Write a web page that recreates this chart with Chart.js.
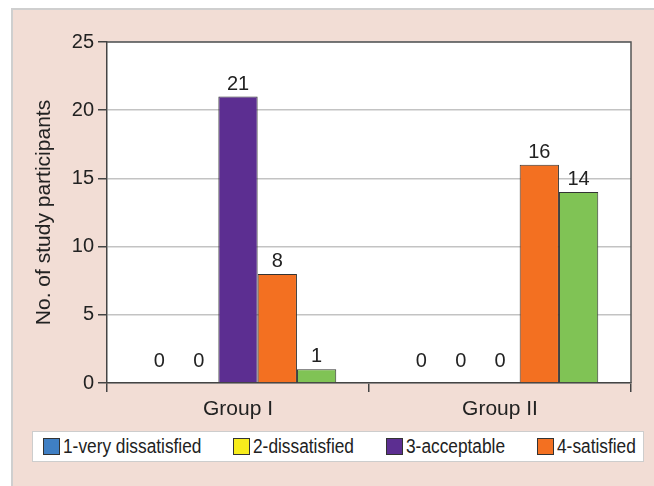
<!DOCTYPE html>
<html lang="en">
<head>
    <meta charset="UTF-8">
    <title>Satisfaction by group</title>
    <script src="https://cdn.jsdelivr.net/npm/chart.js"></script>
    <style>
        body {
            margin: 0;
            background: #fff;
            font-family: "Liberation Sans", Arial, sans-serif;
        }
        #wrap {
            position: relative;
            width: 654px;
            height: 486px;
            overflow: hidden;
        }
        #panel {
            position: absolute;
            left: 11px;
            top: 8px;
            width: 660px;
            height: 500px;
            background: #f2ddd5;
            border-top: 2px solid #cfcfcf;
            border-left: 2px solid #cfcfcf;
        }
        #myChart {
            position: absolute;
            left: 0;
            top: 0;
        }
        #legend {
            position: absolute;
            left: 32px;
            top: 431px;
            width: 612px;
            height: 31px;
            background: #fff;
            border: 1px solid #cdcdcd;
            display: flex;
            align-items: center;
            flex-wrap: nowrap;
            overflow: hidden;
            padding-left: 10px;
            box-sizing: border-box;
            gap: 32px;
            white-space: nowrap;
            font-size: 20px;
            color: #222;
        }
        #legend span.item {
            display: flex;
            align-items: center;
            flex-shrink: 0;
        }
        #legend span.txt {
            display: inline-block;
            overflow: visible;
        }
        #legend span.txt b {
            display: inline-block;
            font-weight: normal;
            transform: scaleX(0.865);
            transform-origin: left center;
        }
        #legend i {
            display: inline-block;
            width: 15px;
            height: 15px;
            border: 1px solid #333;
            margin-right: 3px;
        }
    </style>
</head>
<body>
<div id="wrap">
    <div id="panel"></div>
    <canvas id="myChart" width="654" height="486"></canvas>
    <div id="legend"></div>
</div>
<script>
    // data
    const groups = ['Group I', 'Group II'];
    const seriesNames = ['1-very dissatisfied', '2-dissatisfied', '3-acceptable', '4-satisfied', '5-very satisfied'];
    const veryDissatisfied = [0, 0];
    const dissatisfied = [0, 0];
    const acceptable = [21, 0];
    const satisfied = [8, 16];
    const verySatisfied = [1, 14];
    const yTicks = [0, 5, 10, 15, 20, 25];

    const colors = ['#3f7fc4', '#f7ec1c', '#5c2e91', '#f37021', '#80c355'];
    const values = [veryDissatisfied, dissatisfied, acceptable, satisfied, verySatisfied];

    const font = 'Liberation Sans, Arial, sans-serif';

    // white plot area + dark top/right frame
    const plotArea = {
        id: 'plotArea',
        beforeDraw(chart) {
            const a = chart.chartArea, c = chart.ctx;
            c.save();
            c.fillStyle = '#fff';
            c.fillRect(a.left, a.top, a.right - a.left, a.bottom - a.top);
            c.restore();
        },
        afterDraw(chart) {
            const a = chart.chartArea, c = chart.ctx;
            c.save();
            c.strokeStyle = '#555';
            c.lineWidth = 1.5;
            c.beginPath();
            c.moveTo(a.left, a.top);
            c.lineTo(a.right, a.top);
            c.lineTo(a.right, a.bottom);
            c.stroke();
            c.restore();
        }
    };

    // value labels above every bar
    const barLabels = {
        id: 'barLabels',
        afterDatasetsDraw(chart) {
            const c = chart.ctx;
            c.save();
            c.font = '20px ' + font;
            c.fillStyle = '#222';
            c.textAlign = 'center';
            c.textBaseline = 'alphabetic';
            chart.data.datasets.forEach((ds, i) => {
                chart.getDatasetMeta(i).data.forEach((bar, j) => {
                    const v = ds.data[j];
                    const off = v === 0 ? 16 : 7;
                    c.fillText(String(v), bar.x, bar.y - off);
                });
            });
            c.restore();
        }
    };

    const ctx = document.getElementById('myChart').getContext('2d');
    const myChart = new Chart(ctx, {
        type: 'bar',
        data: {
            labels: groups,
            datasets: seriesNames.map((name, i) => ({
                label: name,
                data: values[i],
                backgroundColor: colors[i],
                borderColor: '#333',
                borderWidth: 1,
                categoryPercentage: 0.75,
                barPercentage: 1
            }))
        },
        options: {
            responsive: false,
            animation: false,
            layout: {
                padding: { top: 42, right: 23, left: 0, bottom: 0 }
            },
            plugins: {
                legend: { display: false },
                tooltip: { enabled: false }
            },
            scales: {
                x: {
                    afterFit(scale) { scale.height = 103; },
                    grid: {
                        drawOnChartArea: false,
                        drawTicks: true,
                        tickLength: 9,
                        color: '#444',
                        lineWidth: 1.5
                    },
                    border: { display: true, color: '#444', width: 1.5 },
                    ticks: {
                        padding: 5,
                        color: '#222',
                        font: { family: font, size: 21 }
                    }
                },
                y: {
                    min: 0,
                    max: 25,
                    afterFit(scale) { scale.width = 107; },
                    afterBuildTicks(scale) {
                        scale.ticks = yTicks.map(v => ({ value: v }));
                    },
                    grid: {
                        color: '#c3c3c3',
                        lineWidth: 1.5,
                        tickColor: '#444',
                        tickLength: 9
                    },
                    border: { display: true, color: '#444', width: 1.5 },
                    ticks: {
                        padding: 4,
                        color: '#222',
                        font: { family: font, size: 20 }
                    },
                    title: {
                        display: true,
                        text: 'No. of study participants',
                        color: '#222',
                        font: { family: font, size: 21 },
                        padding: { top: 32, bottom: 0 }
                    }
                }
            }
        },
        plugins: [plotArea, barLabels]
    });

    // legend box (the last entry is cut off by the box, as in the source)
    const legend = document.getElementById('legend');
    myChart.data.datasets.forEach(ds => {
        const item = document.createElement('span');
        item.className = 'item';
        const box = document.createElement('i');
        box.style.background = ds.backgroundColor;
        const txt = document.createElement('span');
        txt.className = 'txt';
        const inner = document.createElement('b');
        inner.textContent = ds.label;
        txt.appendChild(inner);
        item.appendChild(box);
        item.appendChild(txt);
        legend.appendChild(item);
        // narrow the text like the condensed face of the source
        txt.style.width = (inner.getBoundingClientRect().width) + 'px';
    });
</script>
</body>
</html>
